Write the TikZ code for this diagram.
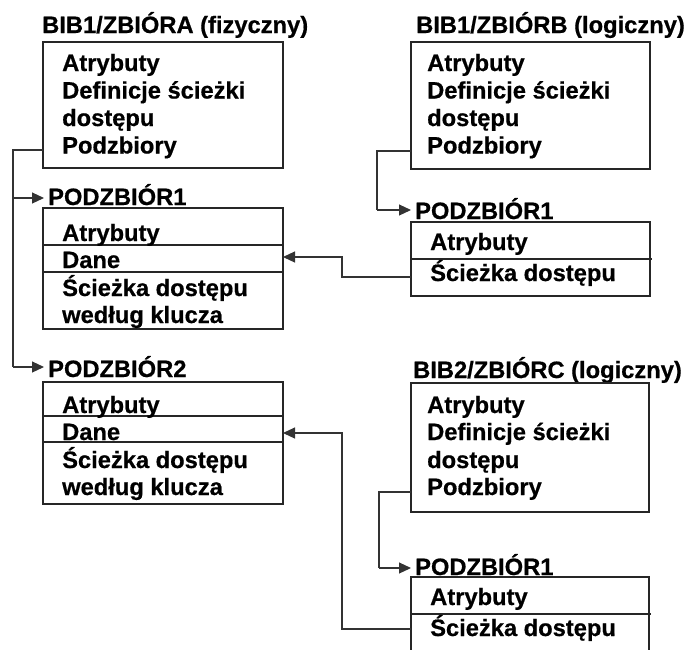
\documentclass[tikz,border=0pt]{standalone}
\usepackage{fontspec}
\setmainfont{Liberation Sans}[BoldFeatures={FakeBold=0.6}]
\usetikzlibrary{arrows.meta}

\tikzset{
  lbl/.style={anchor=base west, inner sep=0pt, font=\bfseries\fontsize{23.7}{28}\selectfont},
  frame/.style={draw=black!85, line width=1.4pt, anchor=north west, inner sep=0pt, outer sep=0pt},
  rule/.style={draw=black!85, line width=1.2pt},
  conn/.style={draw=black!80, line width=1.1pt},
  tip/.style={-{Triangle[length=12pt,width=11pt]}}
}

\begin{document}
\begin{tikzpicture}[x=1pt,y=-1pt]
\clip (0,0) rectangle (686,649);
\fill[white] (0,0) rectangle (686,649);

% ---------- BIB1/ZBIÓRA (physical file) ----------
\node[lbl] (tA) at (42,33) {BIB1/ZBIÓRA (fizyczny)};
\node[frame, minimum width=240, minimum height=126] (boxA) at (43,42) {};
\node[lbl] (a1) at (62,71)    {Atrybuty};
\node[lbl] (a2) at (62,98.5)  {Definicje ścieżki};
\node[lbl] (a3) at (62,126)   {dostępu};
\node[lbl] (a4) at (62,153.5) {Podzbiory};

% member 1
\node[lbl] (p1) at (48,205) {PODZBIÓR1};
\node[frame, minimum width=240, minimum height=121] (s1) at (43,208) {};
\draw[rule] (s1.west |- 0,245) -- (s1.east |- 0,245);
\draw[rule] (s1.west |- 0,272) -- (s1.east |- 0,272);
\node[lbl] (s1a) at (62,241) {Atrybuty};
\node[lbl] (s1b) at (62,268) {Dane};
\node[lbl] (s1c) at (62,296) {Ścieżka dostępu};
\node[lbl] (s1d) at (62,323) {według klucza};

% member 2
\node[lbl] (p2) at (48,377) {PODZBIÓR2};
\node[frame, minimum width=240, minimum height=122] (s2) at (43,382) {};
\draw[rule] (s2.west |- 0,416) -- (s2.east |- 0,416);
\draw[rule] (s2.west |- 0,442) -- (s2.east |- 0,442);
\node[lbl] (s2a) at (62,413) {Atrybuty};
\node[lbl] (s2b) at (62,440) {Dane};
\node[lbl] (s2c) at (62,468) {Ścieżka dostępu};
\node[lbl] (s2d) at (62,495) {według klucza};

% members of ZBIÓRA
\coordinate (jA) at (13,150);
\draw[conn] (boxA.west |- jA) -- (jA) -- (jA |- 0,367);
\draw[conn, tip] (jA |- 0,198) -- ([xshift=-4pt]p1.west |- 0,198);
\draw[conn, tip] (jA |- 0,367) -- ([xshift=-4pt]p2.west |- 0,367);

% ---------- BIB1/ZBIÓRB (logical file) ----------
\node[lbl] (tB) at (416,33) {BIB1/ZBIÓRB (logiczny)};
\node[frame, minimum width=239, minimum height=127] (boxB) at (411,42) {};
\node[lbl] (b1) at (427,71)    {Atrybuty};
\node[lbl] (b2) at (427,98.5)  {Definicje ścieżki};
\node[lbl] (b3) at (427,126)   {dostępu};
\node[lbl] (b4) at (427,153.5) {Podzbiory};

\node[lbl] (pB) at (415,219) {PODZBIÓR1};
\node[frame, minimum width=239, minimum height=74] (sB) at (411,222) {};
\draw[rule] (sB.west |- 0,259) -- ([xshift=2pt]sB.east |- 0,259);
\node[lbl] (sBa) at (430,250) {Atrybuty};
\node[lbl] (sBb) at (430,281) {Ścieżka dostępu};

\coordinate (jB) at (377,151);
\draw[conn] (boxB.west |- jB) -- (jB) -- (jB |- 0,210);
\draw[conn, tip] (jB |- 0,210) -- ([xshift=-4pt]pB.west |- 0,210);

% ---------- BIB2/ZBIÓRC (logical file) ----------
\node[lbl] (tC) at (413,378) {BIB2/ZBIÓRC (logiczny)};
\node[frame, minimum width=238, minimum height=129] (boxC) at (411,383) {};
\node[lbl] (c1) at (427,413) {Atrybuty};
\node[lbl] (c2) at (427,440) {Definicje ścieżki};
\node[lbl] (c3) at (427,468) {dostępu};
\node[lbl] (c4) at (427,495) {Podzbiory};

\node[lbl] (pC) at (415,575) {PODZBIÓR1};
\node[frame, minimum width=238, minimum height=100] (sC) at (411,577) {};
\draw[rule] (sC.west |- 0,614) -- ([xshift=2pt]sC.east |- 0,614);
\node[lbl] (sCa) at (430,605) {Atrybuty};
\node[lbl] (sCb) at (430,636) {Ścieżka dostępu};

\coordinate (jC) at (379,492);
\draw[conn] (boxC.west |- jC) -- (jC) -- (jC |- 0,568);
\draw[conn, tip] (jC |- 0,568) -- ([xshift=-4pt]pC.west |- 0,568);

% ---------- access paths shared with the physical members ----------
\coordinate (k1) at (342,277);
\draw[conn, tip] (sB.west |- k1) -- (k1) -- (k1 |- 0,257) -- (s1.east |- 0,257);
\coordinate (k2) at (342,629);
\draw[conn, tip] (sC.west |- k2) -- (k2) -- (k2 |- 0,433) -- (s2.east |- 0,433);
\end{tikzpicture}
\end{document}
